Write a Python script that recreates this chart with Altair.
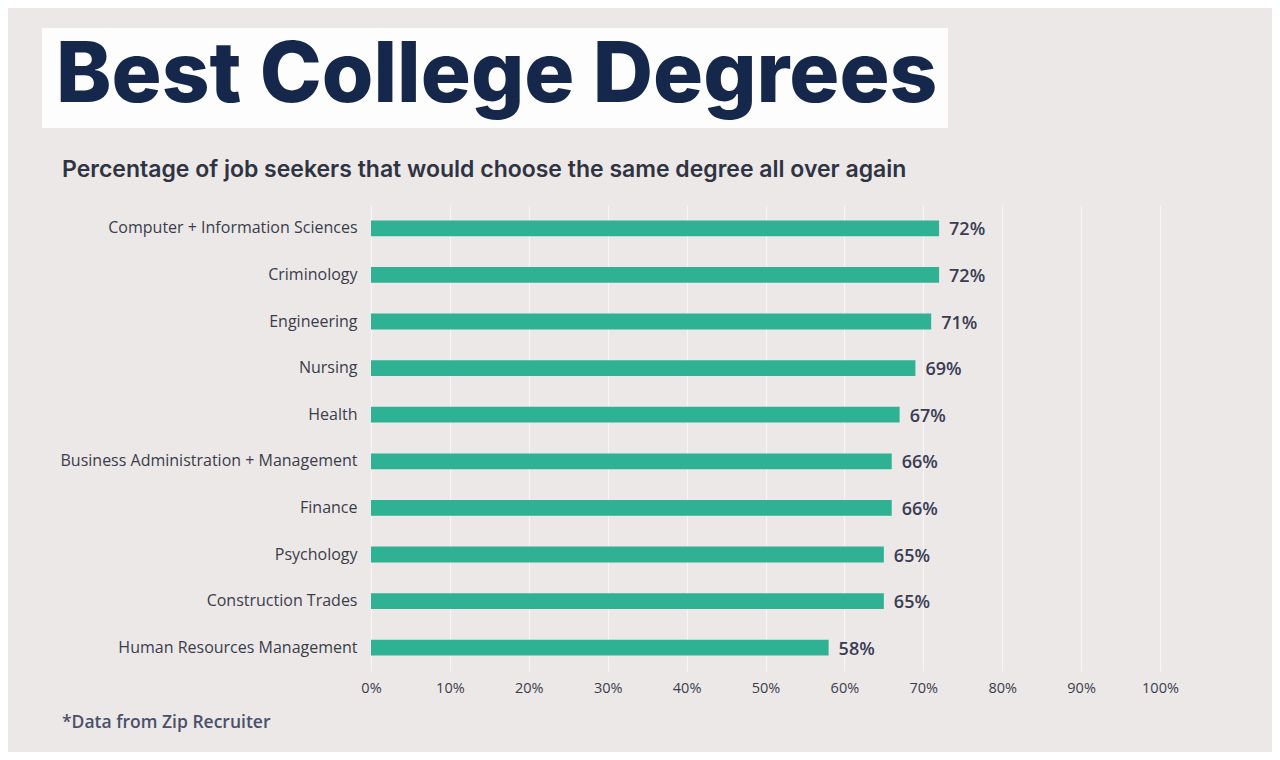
import altair as alt
import pandas as pd

categories = [
    "Computer + Information Sciences",
    "Criminology",
    "Engineering",
    "Nursing",
    "Health",
    "Business Administration + Management",
    "Finance",
    "Psychology",
    "Construction Trades",
    "Human Resources Management",
]
values = [72, 72, 71, 69, 67, 66, 66, 65, 65, 58]
tick_values = [0, 10, 20, 30, 40, 50, 60, 70, 80, 90, 100]

title_text = "Best College Degrees"
subtitle_text = "Percentage of job seekers that would choose the same degree all over again"
footnote_text = "*Data from Zip Recruiter"

df = pd.DataFrame({"degree": categories, "pct": values})
df["label"] = df["pct"].astype(str) + "%"

BG = "#ece8e8"
BAR = "#2fb294"
NAVY = "#15284b"
TEXT = "#2f3342"

W, H = 789, 466

y_enc = alt.Y("degree:N", sort=categories,
              scale=alt.Scale(paddingInner=0.66, paddingOuter=0.33),
              axis=alt.Axis(title=None, domain=False, ticks=False, labelPadding=14,
                            labelFont="Open Sans", labelFontSize=16, labelColor="#3a3d4a",
                            labelLimit=400))
x_enc = alt.X("pct:Q", scale=alt.Scale(domain=[0, 100], nice=False),
              axis=alt.Axis(title=None, values=tick_values, domain=False, ticks=False,
                            labelExpr="datum.value + '%'", labelFont="Open Sans", labelFontSize=14.5,
                            labelColor="#3a3d4a", labelPadding=10, labelFlush=False,
                            grid=True, gridColor="#f7f5f5", gridWidth=1.2))

bars = alt.Chart(df).mark_bar(color=BAR, cornerRadius=0).encode(x=x_enc, y=y_enc)

labels = alt.Chart(df).mark_text(align="left", baseline="middle", dx=10, dy=2,
                                 font="Open Sans", fontSize=18, fontWeight=600,
                                 color="#3a3d52").encode(
    x="pct:Q", y=alt.Y("degree:N", sort=categories), text="label:N")

title_box = alt.Chart(pd.DataFrame({"a": [0]})).mark_rect(color="#fdfdfd").encode(
    x=alt.value(42 - 371), x2=alt.value(948 - 371),
    y=alt.value(28 - 205), y2=alt.value(128 - 205))

title = alt.Chart(pd.DataFrame({"t": [title_text]})).mark_text(
    align="left", baseline="alphabetic", font="Inter", fontSize=83.5, fontWeight=800,
    color=NAVY).encode(x=alt.value(56 - 371), y=alt.value(102 - 205), text="t:N")

subtitle = alt.Chart(pd.DataFrame({"t": [subtitle_text]})).mark_text(
    align="left", baseline="middle", font="Inter", fontSize=23, fontWeight=600,
    color=TEXT).encode(x=alt.value(62 - 371), y=alt.value(170 - 205), text="t:N")

footnote = alt.Chart(pd.DataFrame({"t": [footnote_text]})).mark_text(
    align="left", baseline="middle", font="Open Sans", fontSize=17.5, fontWeight=600,
    color="#4a5068").encode(x=alt.value(62 - 371), y=alt.value(723 - 205), text="t:N")

chart = alt.layer(title_box, title, subtitle, bars, labels, footnote).properties(
    width=W, height=H,
    background=BG,
    padding={"left": 363, "top": 197, "right": 1280 - 16 - 363 - W, "bottom": 760 - 16 - 197 - H},
    autosize=alt.AutoSizeParams(type="none"),
).configure_view(stroke=None).configure_axis(labelFontWeight="normal")

chart.save("out.html", embed_options={"renderer": "svg", "actions": False})
